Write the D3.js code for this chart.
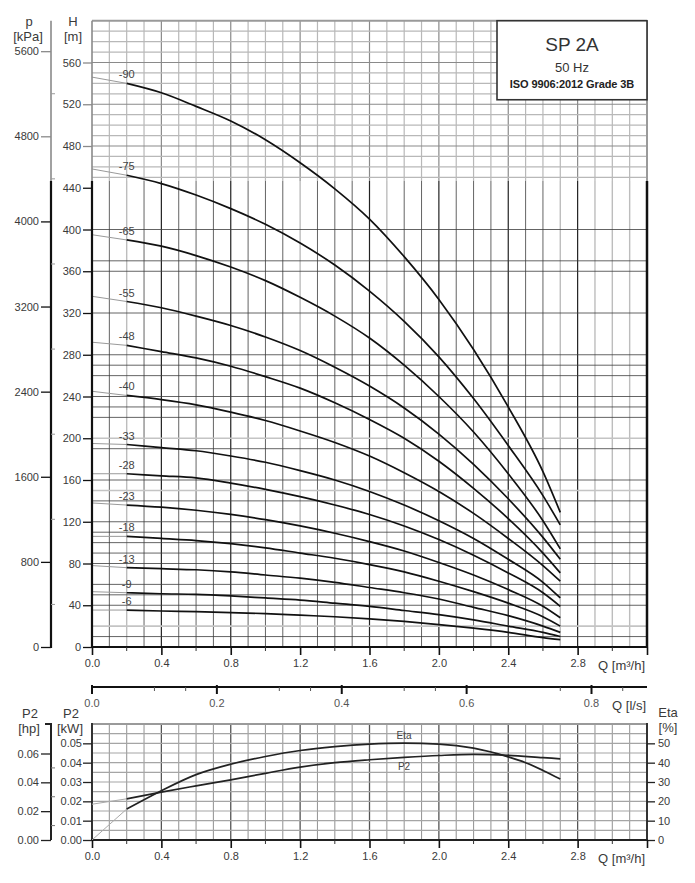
<!DOCTYPE html>
<html><head><meta charset="utf-8">
<script src="https://cdn.jsdelivr.net/npm/d3@7"></script>
<style>body{margin:0;background:#fff;} svg{display:block;font-family:"Liberation Sans",Arial,sans-serif;}</style>
</head><body><svg id="c" width="695" height="883"></svg>
<script>
// ---------------- DATA ----------------
const qPoints = [0, 0.2, 0.4, 0.6, 0.8, 1.0, 1.2, 1.4, 1.6, 1.8, 2.0, 2.2, 2.4, 2.6, 2.7];
const stageLabels = ["-90", "-75", "-65", "-55", "-48", "-40", "-33", "-28", "-23", "-18", "-13", "-9", "-6"];
const head90 = [546, 540, 531, 518, 504, 486, 464, 439, 410, 374, 333, 285, 230, 168, 129];
const head75 = [458, 452, 444, 433, 420, 405, 387, 366, 341, 312, 278, 238, 193, 145, 117];
const head65 = [395, 390, 384, 375, 364, 351, 335, 317, 296, 270, 240, 206, 166, 121, 94];
const head55 = [336, 331, 325, 317, 308, 297, 284, 268, 250, 229, 204, 175, 142, 105, 84];
const head48 = [292, 289, 283, 277, 269, 259, 248, 234, 218, 200, 178, 152, 123, 90, 71];
const head40 = [245, 241, 237, 232, 225, 217, 207, 196, 183, 167, 149, 128, 104, 78, 63];
const head33 = [195, 194, 191, 188, 183, 177, 169, 160, 149, 136, 121, 104, 84, 62, 47];
const head28 = [166, 166, 164, 162, 157, 151, 144, 136, 127, 116, 103, 88, 71, 52, 39];
const head23 = [138, 136, 134, 131, 127, 122, 116, 109, 101, 92, 81, 69, 55, 39, 28];
const head18 = [106, 106, 104, 102, 99, 95, 90, 85, 79, 72, 63, 53, 42, 29, 20];
const head13 = [78, 76, 75, 74, 72, 69, 66, 62, 57, 52, 46, 38, 30, 20, 14];
const head9 = [53, 52, 51, 50.5, 49, 47, 45, 42, 39, 35, 31, 26, 20, 14, 10];
const head6 = [35.4, 35.4, 34.5, 33.8, 33, 32, 30.5, 29, 27, 24.5, 21.5, 18, 14, 9, 7];
const headSeries = [head90, head75, head65, head55, head48, head40, head33, head28, head23, head18, head13, head9, head6];

const etaQ = [0, 0.2, 0.4, 0.6, 0.8, 1.0, 1.2, 1.4, 1.6, 1.8, 2.0, 2.2, 2.4, 2.5, 2.6, 2.7];
const etaValues = [0, 16, 25.5, 33.8, 39.2, 43.2, 46.3, 48.3, 49.6, 50.1, 49.6, 47.5, 43, 40, 36, 31.5];
const p2Q = [0, 0.2, 0.4, 0.6, 0.8, 1.0, 1.2, 1.4, 1.6, 1.8, 2.0, 2.2, 2.4, 2.6, 2.7];
const p2Values = [0.0185, 0.0213, 0.0248, 0.028, 0.0311, 0.0345, 0.0377, 0.0400, 0.0415, 0.0427, 0.0437, 0.0443, 0.0438, 0.0426, 0.0420];

const qTicks = [0.0, 0.4, 0.8, 1.2, 1.6, 2.0, 2.4, 2.8];
const qMinorTicks = [0.2, 0.6, 1.0, 1.4, 1.8, 2.2, 2.6, 3.0];
const lsTicks = [0.0, 0.2, 0.4, 0.6, 0.8];
const lsMinorTicks = [0.1, 0.15, 0.3, 0.35, 0.5, 0.55, 0.75, 0.85];
const hTicks = [0, 40, 80, 120, 160, 200, 240, 280, 320, 360, 400, 440, 480, 520, 560];
const pTicks = [0, 800, 1600, 2400, 3200, 4000, 4800, 5600];
const kwTicks = [0.00, 0.01, 0.02, 0.03, 0.04, 0.05];
const hpTicks = [0.00, 0.02, 0.04, 0.06];
const hpMinorTicks = [0.01, 0.03, 0.05];
const etaTicks = [0, 10, 20, 30, 40, 50];
// grid lines in the lower part of the head chart (as printed)
const hGridDark = [10, 40, 50, 60, 80, 90, 100, 110, 120, 140, 160, 190, 220, 230, 240, 260, 270, 280, 320, 360, 370, 400];
const hGridLight = [20, 150, 200];
const hGridUpper = [450, 460, 470, 480, 490, 500, 510, 520, 530, 540, 550, 560, 570, 580, 590];
const qGridLight = [0.2, 1.2, 1.7, 2.7, 2.9, 3.0, 3.1];

// ---------------- SCALES ----------------
const svg = d3.select("#c");
const X0 = 92, X1 = 647;
const x = d3.scaleLinear().domain([0, 3.2]).range([X0, X1]);
const xls = d3.scaleLinear().domain([0, 3.2 / 3.6]).range([X0, X1]);
const yH = d3.scaleLinear().domain([0, 600]).range([647, 20.75]);
const yP = d3.scaleLinear().domain([0, 600 * 9.81]).range([647, 20.75]);
const yKW = d3.scaleLinear().domain([0, 0.06]).range([840, 724]);
const yHP = d3.scaleLinear().domain([0, 0.06 / 0.7457]).range([840, 724]);
const yEta = d3.scaleLinear().domain([0, 60]).range([840, 724]);
const splitY = 181; // boundary between light upper grid and dark lower grid
const txt = "#3a3a3a";
const isLight = d => qGridLight.some(v => Math.abs(v - d) < 1e-6);
const isMajor = d => Math.round(d * 10) % 4 === 0;

// ---------------- HEAD CHART GRID ----------------
const g = svg.append("g");
const qGridAll = d3.range(1, 32).map(i => i / 10);
// upper (light) region
g.selectAll(".vu").data(qGridAll).join("line")
  .attr("x1", d => x(d)).attr("x2", d => x(d)).attr("y1", yH(600)).attr("y2", splitY)
  .attr("stroke", d => isMajor(d) ? "#8a8a8a" : "#b8b8b8").attr("stroke-width", 1.2);
g.selectAll(".hu").data(hGridUpper).join("line")
  .attr("x1", X0).attr("x2", X1).attr("y1", d => yH(d)).attr("y2", d => yH(d))
  .attr("stroke", d => d % 40 === 0 ? "#8a8a8a" : "#b8b8b8").attr("stroke-width", 1.2);
// lower (dark) region
g.selectAll(".vl").data(qGridAll).join("line")
  .attr("x1", d => x(d)).attr("x2", d => x(d)).attr("y1", splitY).attr("y2", yH(0))
  .attr("stroke", d => isLight(d) ? "#bdbdbd" : (isMajor(d) ? "#222" : "#3c3c3c"))
  .attr("stroke-width", d => isLight(d) ? 1.4 : (isMajor(d) ? 1.2 : 0.8));
g.selectAll(".hl").data(hGridLight).join("line")
  .attr("x1", X0).attr("x2", X1).attr("y1", d => yH(d)).attr("y2", d => yH(d))
  .attr("stroke", "#c4c4c4").attr("stroke-width", 1.6);
g.selectAll(".hd").data(hGridDark).join("line")
  .attr("x1", X0).attr("x2", X1).attr("y1", d => yH(d)).attr("y2", d => yH(d))
  .attr("stroke", "#3c3c3c").attr("stroke-width", 0.8);

// frame
svg.append("line").attr("x1", X0).attr("x2", X1).attr("y1", yH(600)).attr("y2", yH(600)).attr("stroke", "#9a9a9a").attr("stroke-width", 2);
svg.append("line").attr("x1", X1).attr("x2", X1).attr("y1", yH(600)).attr("y2", splitY).attr("stroke", "#9a9a9a").attr("stroke-width", 2);
svg.append("line").attr("x1", X1).attr("x2", X1).attr("y1", splitY).attr("y2", yH(0)).attr("stroke", "#111").attr("stroke-width", 2.5);

// ---------------- HEAD CURVES ----------------
const line = d3.line().x(d => x(d[0])).y(d => yH(d[1])).curve(d3.curveMonotoneX);
const cg = svg.append("g");
headSeries.forEach((s, i) => {
  const pts = qPoints.map((q, j) => [q, s[j]]);
  cg.append("path").attr("d", line(pts.filter(p => p[0] <= 0.2))).attr("fill", "none").attr("stroke", "#9a9a9a").attr("stroke-width", 1);
  cg.append("path").attr("d", line(pts.filter(p => p[0] >= 0.2))).attr("fill", "none").attr("stroke", "#111").attr("stroke-width", 1.7);
  cg.append("text").attr("x", x(0.2)).attr("y", yH(s[1]) - 5).attr("text-anchor", "middle")
    .attr("font-size", 11).attr("fill", "#444").text(stageLabels[i]);
});

// ---------------- AXES (head chart) ----------------
// H axis
svg.append("line").attr("x1", X0).attr("x2", X0).attr("y1", yH(600)).attr("y2", splitY).attr("stroke", "#8a8a8a").attr("stroke-width", 1.6);
svg.append("line").attr("x1", X0).attr("x2", X0).attr("y1", splitY).attr("y2", yH(0) + 1).attr("stroke", "#111").attr("stroke-width", 2.2);
const hAx = svg.append("g").attr("transform", `translate(${X0},0)`)
  .call(d3.axisLeft(yH).tickValues(hTicks).tickSize(9).tickFormat(d3.format("d")));
hAx.select(".domain").remove();
hAx.selectAll("line").attr("stroke", d => yH(d) < splitY ? "#8a8a8a" : "#111").attr("stroke-width", 1.3);
hAx.selectAll("text").attr("font-size", 11).attr("fill", txt).attr("font-family", "Liberation Sans, Arial, sans-serif").attr("x", -11);

// p axis
svg.append("line").attr("x1", 51).attr("x2", 51).attr("y1", yH(600)).attr("y2", splitY).attr("stroke", "#8a8a8a").attr("stroke-width", 1.6);
svg.append("line").attr("x1", 51).attr("x2", 51).attr("y1", splitY).attr("y2", yH(0) + 1).attr("stroke", "#111").attr("stroke-width", 2.2);
const pAx = svg.append("g").attr("transform", "translate(51,0)")
  .call(d3.axisLeft(yP).tickValues(pTicks).tickSize(10).tickFormat(d3.format("d")));
pAx.select(".domain").remove();
pAx.selectAll("line").attr("stroke", d => yP(d) < splitY ? "#8a8a8a" : "#111").attr("stroke-width", 1.3);
pAx.selectAll("text").attr("font-size", 11).attr("fill", txt).attr("font-family", "Liberation Sans, Arial, sans-serif").attr("x", -12);
const pMinor = d3.range(400, 5800, 800);
svg.append("g").selectAll("line").data(pMinor).join("line")
  .attr("x1", 51).attr("x2", 55).attr("y1", d => yP(d)).attr("y2", d => yP(d)).attr("stroke", "#999").attr("stroke-width", 1);

// Q m3/h axis
svg.append("line").attr("x1", X0 - 1).attr("x2", X1 + 1).attr("y1", 647).attr("y2", 647).attr("stroke", "#111").attr("stroke-width", 2.2);
const qAx = svg.append("g").attr("transform", "translate(0,647)")
  .call(d3.axisBottom(x).tickValues(qTicks.concat([3.2])).tickSize(8).tickFormat(d => d > 3 ? "" : d3.format(".1f")(d)));
qAx.select(".domain").remove();
qAx.selectAll("line").attr("stroke", "#111").attr("stroke-width", 1.6);
qAx.selectAll("text").attr("font-size", 11).attr("fill", txt).attr("font-family", "Liberation Sans, Arial, sans-serif").attr("y", 12);
svg.append("g").selectAll("line").data(qMinorTicks).join("line")
  .attr("x1", d => x(d)).attr("x2", d => x(d)).attr("y1", 647).attr("y2", 651).attr("stroke", "#333").attr("stroke-width", 1);
svg.append("text").attr("x", 645).attr("y", 670).attr("text-anchor", "end").attr("font-size", 13).attr("fill", txt)
  .text("Q [m³/h]");

// Q l/s axis
svg.append("line").attr("x1", X0).attr("x2", X1).attr("y1", 687).attr("y2", 687).attr("stroke", "#111").attr("stroke-width", 2);
svg.append("g").selectAll("line").data(lsTicks).join("line")
  .attr("x1", d => xls(d)).attr("x2", d => xls(d)).attr("y1", 685).attr("y2", 694).attr("stroke", "#111").attr("stroke-width", 2);
svg.append("g").selectAll("line").data(lsMinorTicks).join("line")
  .attr("x1", d => xls(d)).attr("x2", d => xls(d)).attr("y1", 687).attr("y2", 691).attr("stroke", "#555").attr("stroke-width", 1);
svg.append("g").selectAll("text").data(lsTicks).join("text")
  .attr("x", d => xls(d)).attr("y", 707).attr("text-anchor", "middle").attr("font-size", 11).attr("fill", "#555")
  .text(d => d3.format(".1f")(d));
svg.append("text").attr("x", 646).attr("y", 710).attr("text-anchor", "end").attr("font-size", 13).attr("fill", txt).text("Q [l/s]");

// axis titles
const title = (t, xx, yy, anchor) => svg.append("text").attr("x", xx).attr("y", yy).attr("text-anchor", anchor || "middle")
  .attr("font-size", 13).attr("fill", txt).text(t);
title("p", 29, 26); title("[kPa]", 28, 41);
title("H", 73, 26); title("[m]", 73, 41);

// info box
svg.append("rect").attr("x", 497).attr("y", 20.75).attr("width", 150).attr("height", 79).attr("fill", "#fff")
  .attr("stroke", "#333").attr("stroke-width", 1.6);
svg.append("text").attr("x", 572).attr("y", 51).attr("text-anchor", "middle").attr("font-size", 19).attr("fill", "#333").text("SP 2A");
svg.append("text").attr("x", 572).attr("y", 72).attr("text-anchor", "middle").attr("font-size", 13).attr("fill", "#333").text("50 Hz");
svg.append("text").attr("x", 572).attr("y", 88).attr("text-anchor", "middle").attr("font-size", 11).attr("fill", "#222").attr("font-weight", "bold").attr("letter-spacing", "-0.1").text("ISO 9906:2012 Grade 3B");

// ---------------- POWER / EFFICIENCY CHART ----------------
const bg = svg.append("g");
bg.selectAll(".bv").data(qGridAll).join("line")
  .attr("x1", d => x(d)).attr("x2", d => x(d)).attr("y1", 724).attr("y2", 840)
  .attr("stroke", d => isMajor(d) ? "#555" : "#9a9a9a").attr("stroke-width", d => isMajor(d) ? 1.3 : 1.1);
bg.selectAll(".bh").data(d3.range(1, 12).map(i => i * 0.005)).join("line")
  .attr("x1", X0).attr("x2", X1).attr("y1", d => yKW(d)).attr("y2", d => yKW(d))
  .attr("stroke", "#a5a5a5").attr("stroke-width", 1.1);
svg.append("line").attr("x1", X0).attr("x2", X1).attr("y1", 724).attr("y2", 724).attr("stroke", "#9a9a9a").attr("stroke-width", 2);
svg.append("line").attr("x1", X0).attr("x2", X0).attr("y1", 723).attr("y2", 841).attr("stroke", "#333").attr("stroke-width", 2);
svg.append("line").attr("x1", X1).attr("x2", X1).attr("y1", 723).attr("y2", 841).attr("stroke", "#333").attr("stroke-width", 2);
svg.append("line").attr("x1", X0 - 1).attr("x2", X1 + 1).attr("y1", 840).attr("y2", 840).attr("stroke", "#222").attr("stroke-width", 2);

const etaLine = d3.line().x(d => x(d[0])).y(d => yEta(d[1])).curve(d3.curveMonotoneX);
const p2Line = d3.line().x(d => x(d[0])).y(d => yKW(d[1])).curve(d3.curveMonotoneX);
const etaPts = etaQ.map((q, i) => [q, etaValues[i]]);
const p2Pts = p2Q.map((q, i) => [q, p2Values[i]]);
svg.append("path").attr("d", etaLine(etaPts.filter(p => p[0] <= 0.2))).attr("fill", "none").attr("stroke", "#aaa").attr("stroke-width", 1);
svg.append("path").attr("d", p2Line(p2Pts.filter(p => p[0] <= 0.2))).attr("fill", "none").attr("stroke", "#aaa").attr("stroke-width", 1);
svg.append("path").attr("d", etaLine(etaPts.filter(p => p[0] >= 0.2))).attr("fill", "none").attr("stroke", "#222").attr("stroke-width", 1.7);
svg.append("path").attr("d", p2Line(p2Pts.filter(p => p[0] >= 0.2))).attr("fill", "none").attr("stroke", "#222").attr("stroke-width", 1.7);
svg.append("text").attr("x", 404).attr("y", 739).attr("text-anchor", "middle").attr("font-size", 10).attr("fill", "#444").text("Eta");
svg.append("text").attr("x", 404).attr("y", 770).attr("text-anchor", "middle").attr("font-size", 10).attr("fill", "#444").text("P2");

// kW axis
const kwAx = svg.append("g").attr("transform", `translate(${X0},0)`)
  .call(d3.axisLeft(yKW).tickValues(kwTicks).tickSize(9).tickFormat(d3.format(".2f")));
kwAx.select(".domain").remove();
kwAx.selectAll("line").attr("stroke", "#222").attr("stroke-width", 1.3);
kwAx.selectAll("text").attr("font-size", 11).attr("fill", txt).attr("font-family", "Liberation Sans, Arial, sans-serif").attr("x", -10);
// hp axis
svg.append("path").attr("d", "M45,724H51V840").attr("fill", "none").attr("stroke", "#222").attr("stroke-width", 2);
const hpAx = svg.append("g").attr("transform", "translate(51,0)")
  .call(d3.axisLeft(yHP).tickValues(hpTicks).tickSize(10).tickFormat(d3.format(".2f")));
hpAx.select(".domain").remove();
hpAx.selectAll("line").attr("stroke", "#222").attr("stroke-width", 1.3);
hpAx.selectAll("text").attr("font-size", 11).attr("fill", txt).attr("font-family", "Liberation Sans, Arial, sans-serif").attr("x", -12);
svg.append("g").selectAll("line").data(hpMinorTicks).join("line")
  .attr("x1", 51).attr("x2", 55).attr("y1", d => yHP(d)).attr("y2", d => yHP(d)).attr("stroke", "#777").attr("stroke-width", 1);
// eta axis
const etaAx = svg.append("g").attr("transform", `translate(${X1},0)`)
  .call(d3.axisRight(yEta).tickValues(etaTicks).tickSize(8).tickFormat(d3.format("d")));
etaAx.select(".domain").remove();
etaAx.selectAll("line").attr("stroke", "#222").attr("stroke-width", 1.3);
etaAx.selectAll("text").attr("font-size", 11).attr("fill", txt).attr("font-family", "Liberation Sans, Arial, sans-serif").attr("x", 11);
// Q axis bottom
const qAx2 = svg.append("g").attr("transform", "translate(0,840)")
  .call(d3.axisBottom(x).tickValues(qTicks.concat([3.2])).tickSize(8).tickFormat(d => d > 3 ? "" : d3.format(".1f")(d)));
qAx2.select(".domain").remove();
qAx2.selectAll("line").attr("stroke", "#111").attr("stroke-width", 1.6);
qAx2.selectAll("text").attr("font-size", 11).attr("fill", txt).attr("font-family", "Liberation Sans, Arial, sans-serif").attr("y", 12);
svg.append("g").selectAll("line").data(qMinorTicks).join("line")
  .attr("x1", d => x(d)).attr("x2", d => x(d)).attr("y1", 840).attr("y2", 844).attr("stroke", "#333").attr("stroke-width", 1);
svg.append("text").attr("x", 645).attr("y", 863).attr("text-anchor", "end").attr("font-size", 13).attr("fill", txt).text("Q [m³/h]");

title("P2", 30, 718); title("[hp]", 29, 733);
title("P2", 71, 718); title("[kW]", 70, 733);
title("Eta", 668, 717); title("[%]", 668, 732);
</script></body></html>
